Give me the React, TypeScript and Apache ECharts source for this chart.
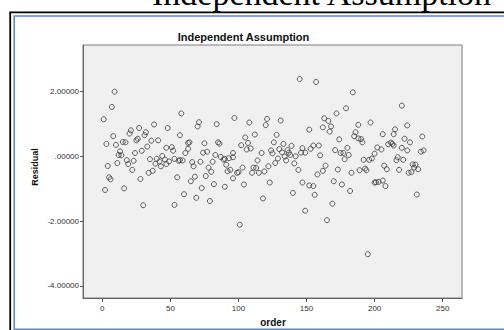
import React, { useEffect, useRef } from 'react';
import * as echarts from 'echarts';

const orderValues = [
  9, 7, 1, 38, 27, 21, 20, 32, 31, 8, 26, 25, 36, 41, 3, 10, 15, 17, 33, 29, 13, 24, 12, 14, 35, 40, 44, 18, 23, 19, 11, 39, 42, 43, 4, 22, 37, 34, 5, 6, 28, 16, 2, 30,
  58, 48, 71, 70, 84, 97, 57, 63, 64, 75, 85, 86, 47, 51, 52, 63, 61, 74, 77, 83, 96, 46, 47, 49, 53, 56, 57, 59, 66, 67, 72, 81, 87, 89, 90, 93, 96, 91, 78, 80, 94, 92, 96, 76, 68, 65, 55, 82, 90, 73, 60, 69, 79, 53,
  145, 121, 131, 108, 120, 112, 128, 105, 107, 126, 102, 106, 109, 133, 139, 147, 117, 124, 125, 130, 132, 136, 137, 138, 142, 146, 134, 129, 135, 114, 127, 141, 122, 103, 111, 113, 144, 100, 99, 110, 115, 119, 104, 123, 147, 140, 118, 149, 101,
  157, 184, 179, 172, 163, 166, 168, 162, 167, 152, 188, 197, 186, 185, 188, 190, 191, 174, 149, 153, 155, 159, 160, 171, 175, 177, 178, 180, 181, 192, 196, 198, 200, 164, 162, 158, 173, 183, 189, 193, 194, 152, 155, 170, 176, 200, 156, 182, 169, 165, 195,
  220, 224, 215, 235, 206, 214, 222, 226, 212, 210, 213, 214, 202, 205, 220, 224, 234, 236, 217, 216, 221, 228, 230, 207, 209, 229, 232, 218, 225, 227, 201, 203, 206, 208, 231
];

const residualValues = [
  1.99, 1.52, 1.14, 0.98, 0.87, 0.80, 0.70, 0.74, 0.65, 0.62, 0.54, 0.49, 0.48, 0.49, 0.38, 0.35, 0.44, 0.43, 0.30, 0.17, 0.15, 0.10, 0.04, 0.03, -0.09, -0.08, 0.01, -0.12, -0.14, -0.24, -0.21, -0.23, -0.16, -0.31, -0.30, -0.42, -0.45, -0.51, -0.65, -0.71, -0.70, -0.99, -1.04, -1.51,
  1.32, 0.87, 1.05, 0.92, 0.99, 1.18, 0.65, 0.41, 0.43, 0.40, 0.43, 0.39, 0.26, 0.28, 0.17, 0.23, 0.10, 0.11, 0.14, 0.04, 0.10, -0.10, -0.24, -0.16, -0.08, -0.14, -0.12, -0.13, -0.18, -0.31, -0.17, -0.17, -0.02, -0.10, -0.08, -0.06, -0.03, -0.26, -0.35, -0.48, -0.42, -0.46, -0.68, -0.61, -0.63, -0.77, -0.65, -0.86, -0.94, -0.98, -1.17, -1.28, -1.38, -1.50,
  2.38, 1.15, 1.10, 1.04, 0.96, 0.67, 0.66, 0.58, 0.41, 0.43, 0.34, 0.21, 0.24, 0.38, 0.32, 0.25, 0.10, 0.18, 0.09, 0.22, 0.12, 0.19, 0.11, 0.04, 0.00, 0.11, -0.01, -0.07, -0.13, -0.13, -0.21, -0.22, -0.31, -0.35, -0.35, -0.36, -0.42, -0.49, -0.51, -0.51, -0.51, -0.47, -0.87, -0.81, -0.81, -1.13, -1.30, -1.68, -2.11,
  2.29, 1.97, 1.48, 1.32, 1.17, 1.09, 0.92, 0.89, 0.76, 0.82, 0.97, 1.04, 0.74, 0.62, 0.55, 0.53, 0.43, 0.52, 0.11, 0.23, 0.33, 0.33, 0.03, 0.19, 0.10, 0.10, -0.09, 0.26, 0.04, -0.11, -0.11, -0.07, 0.08, -0.29, -0.45, -0.56, -0.41, -0.51, -0.43, -0.38, -0.43, -0.90, -0.92, -0.77, -0.87, -0.81, -1.19, -1.07, -1.46, -1.97, -3.02,
  1.56, 0.95, 0.83, 0.61, 0.68, 0.68, 0.54, 0.43, 0.42, 0.37, 0.38, 0.33, 0.27, 0.21, 0.26, 0.18, 0.14, 0.18, -0.03, -0.12, -0.11, -0.25, -0.26, -0.29, -0.40, -0.35, -0.40, -0.42, -0.51, -0.49, -0.80, -0.79, -0.75, -0.92, -1.18
];

const xTickValues = [0, 50, 100, 150, 200, 250];
const yTickValues = [-4, -2, 0, 2];

export default function App() {
  const ref = useRef<HTMLDivElement>(null);
  useEffect(() => {
    const chart = echarts.init(ref.current as HTMLDivElement, null, { renderer: 'svg' });
    const n = Math.min(orderValues.length, residualValues.length);
    const data: number[][] = [];
    for (let i = 0; i < n; i++) data.push([orderValues[i], residualValues[i]]);
    chart.setOption({
      animation: false,
      backgroundColor: '#ffffff',
      textStyle: { fontFamily: 'Liberation Sans' },
      grid: {
        left: 83, top: 45, width: 379, height: 253,
        show: true, backgroundColor: '#f0f0f0', borderColor: '#7a7a7a', borderWidth: 1
      },
      xAxis: {
        type: 'value', min: -14.2, max: 264.2,
        splitLine: { show: false },
        axisLine: { onZero: false, lineStyle: { color: '#666', width: 1 } },
        axisTick: { customValues: xTickValues, length: 4, lineStyle: { color: '#555' } },
        axisLabel: { customValues: xTickValues, fontSize: 8, color: '#333', margin: 6, fontFamily: 'Liberation Sans' }
      },
      yAxis: {
        type: 'value', min: -4.37, max: 3.43,
        splitLine: { show: false },
        axisLine: { show: true, onZero: false, lineStyle: { color: '#666', width: 1 } },
        axisTick: { show: true, customValues: yTickValues, length: 3, lineStyle: { color: '#555' } },
        axisLabel: {
          customValues: yTickValues, fontSize: 8, color: '#333', margin: 4, fontFamily: 'Liberation Sans',
          formatter: (v: number) => (v === 0 ? '.00000' : v.toFixed(5))
        }
      },
      series: [{
        type: 'scatter',
        data,
        symbol: 'circle',
        symbolSize: 5,
        itemStyle: { color: 'rgba(0,0,0,0)', borderColor: '#3a3a3a', borderWidth: 1 }
      }],
      graphic: [
        { type: 'rect', shape: { x: 10.2, y: 12.4, width: 600, height: 400 }, style: { fill: 'none', stroke: '#000', lineWidth: 1.8 }, silent: true },
        { type: 'rect', shape: { x: 14.2, y: 16, width: 600, height: 313.3 }, style: { fill: 'none', stroke: '#5a86c5', lineWidth: 1.5 }, silent: true },
        { type: 'text', x: 152, y: -6.5, style: { text: 'Independent Assumption', fontSize: 34, fontFamily: 'Liberation Serif', fill: '#000', align: 'left', verticalAlign: 'middle' } },
        { type: 'text', x: 243.5, y: 37.3, style: { text: 'Independent Assumption', fontSize: 11, fontWeight: 'bold', fontFamily: 'Liberation Sans', fill: '#111', align: 'center', verticalAlign: 'middle' } },
        { type: 'text', x: 273, y: 322, style: { text: 'order', fontSize: 10, fontWeight: 'bold', fontFamily: 'Liberation Sans', fill: '#111', align: 'center', verticalAlign: 'middle' } },
        { type: 'text', x: 35, y: 167, rotation: Math.PI / 2, style: { text: 'Residual', fontSize: 9, fontWeight: 'bold', fontFamily: 'Liberation Sans', fill: '#111', align: 'center', verticalAlign: 'middle' } }
      ]
    });
    return () => chart.dispose();
  }, []);
  return <div ref={ref} style={{ position: 'absolute', left: 0, top: 0, width: 504, height: 330 }} />;
}
